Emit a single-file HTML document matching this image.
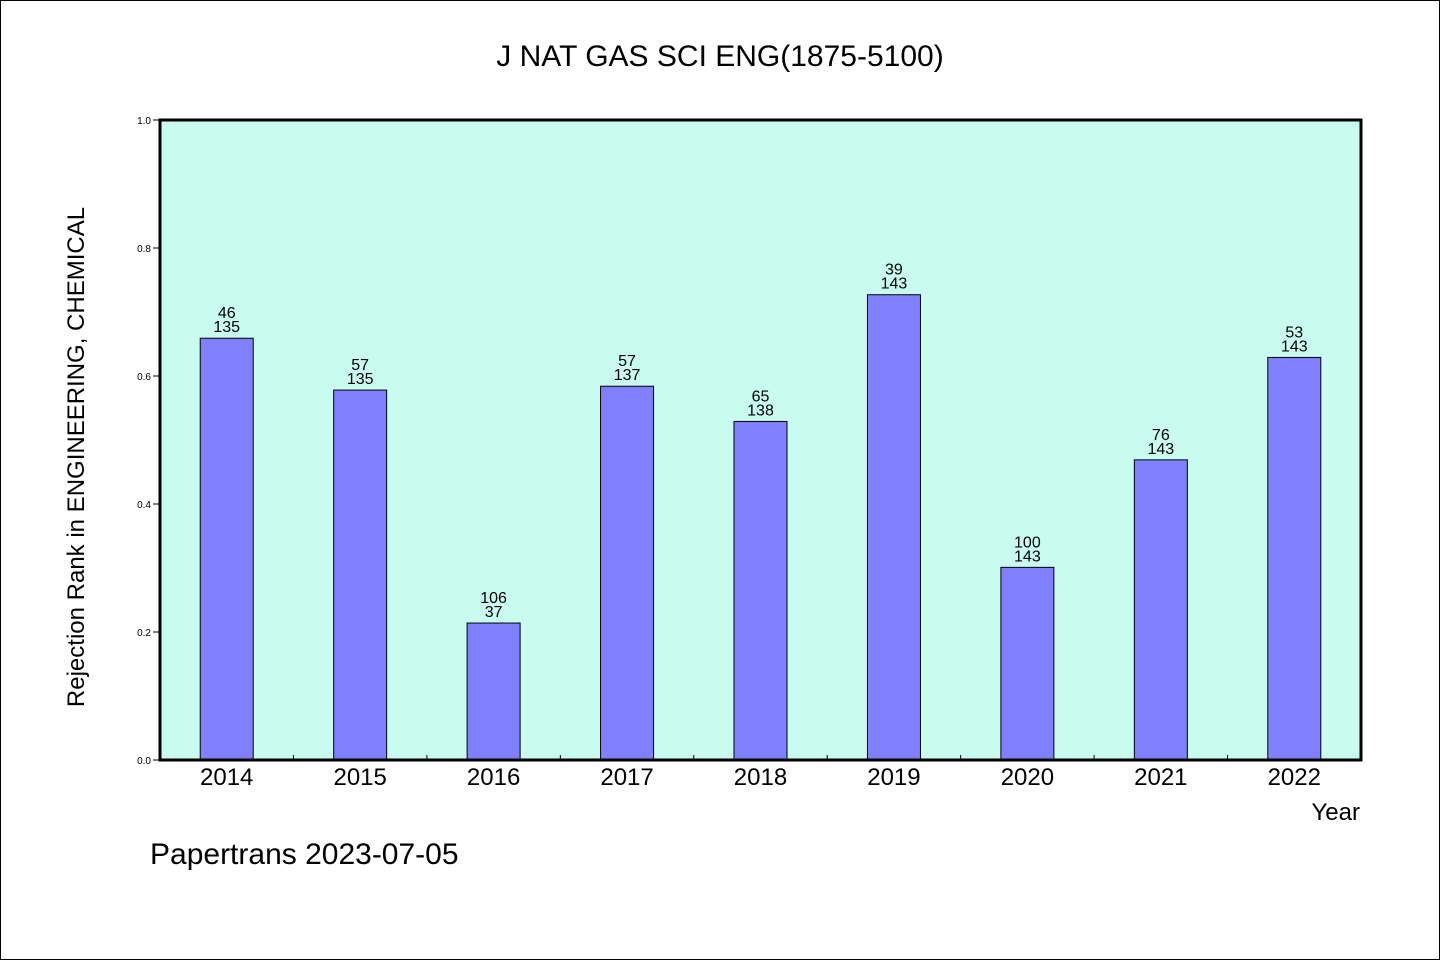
<!DOCTYPE html>
<html><head><meta charset="utf-8"><style>
body{margin:0;background:#fff}
svg{display:block}
text{font-family:"WenQuanYi Zen Hei","Liberation Sans",sans-serif;fill:#000}
</style></head><body>
<svg width="1440" height="960">
<rect x="0.5" y="0.5" width="1439" height="959" fill="#fff" stroke="#000"/>
<text x="720" y="66" font-size="30" text-anchor="middle">J NAT GAS SCI ENG(1875-5100)</text>
<rect x="160" y="120" width="1201" height="640" fill="#c8fcee"/>
<g id="marks"></g>
<rect x="160" y="120" width="1201" height="640" fill="none" stroke="#000" stroke-width="3"/>
<text transform="translate(84,457) rotate(-90)" font-size="24" text-anchor="middle">Rejection Rank in ENGINEERING, CHEMICAL</text>
<text x="1360" y="820" font-size="24" text-anchor="end">Year</text>
<text x="150" y="864" font-size="30">Papertrans 2023-07-05</text>
</svg>
<script>
const years=["2014","2015","2016","2017","2018","2019","2020","2021","2022"];
const values=[0.659,0.578,0.214,0.584,0.529,0.727,0.301,0.469,0.629];
const ranks=["46","57","106","57","65","39","100","76","53"];
const totals=["135","135","37","137","138","143","143","143","143"];
const yTicks=[0,0.2,0.4,0.6,0.8,1.0];
const NS="http://www.w3.org/2000/svg";
const g=document.getElementById('marks');
const x0=160,w=1201,y0=760,h=640,step=w/years.length;
const ys=v=>y0-v*h, xc=i=>x0+step*(i+0.5);
function mk(t,a,txt){const e=document.createElementNS(NS,t);for(const k in a)e.setAttribute(k,a[k]);if(txt!=null)e.textContent=txt;g.appendChild(e);return e;}
yTicks.forEach(v=>{
 const l=mk('line',{x1:x0-7,x2:x0,y1:ys(v),y2:ys(v),stroke:'#000'});
 
 
 const t=mk('text',{x:x0-9,y:ys(v)+4,'font-size':10,'text-anchor':'end'},v.toFixed(1));
 
 
});
years.forEach((yr,i)=>{
 const bw=53,top=ys(values[i]);
 const r=mk('rect',{x:xc(i)-bw/2,y:top,width:bw,height:y0-top,fill:'#8080ff',stroke:'#000','stroke-width':1});
 
 
 const a=mk('text',{x:xc(i),y:top-20,'font-size':16,'text-anchor':'middle'},ranks[i]);
 
 
 const b=mk('text',{x:xc(i),y:top-6,'font-size':16,'text-anchor':'middle'},totals[i]);
 
 
 const t=mk('text',{x:xc(i),y:785,'font-size':24,'text-anchor':'middle'},yr);
 
 
 if(i>0){const tk=mk('line',{x1:x0+step*i,x2:x0+step*i,y1:y0,y2:y0-5,stroke:'#000'});
 
 }
});
</script>
</body></html>
